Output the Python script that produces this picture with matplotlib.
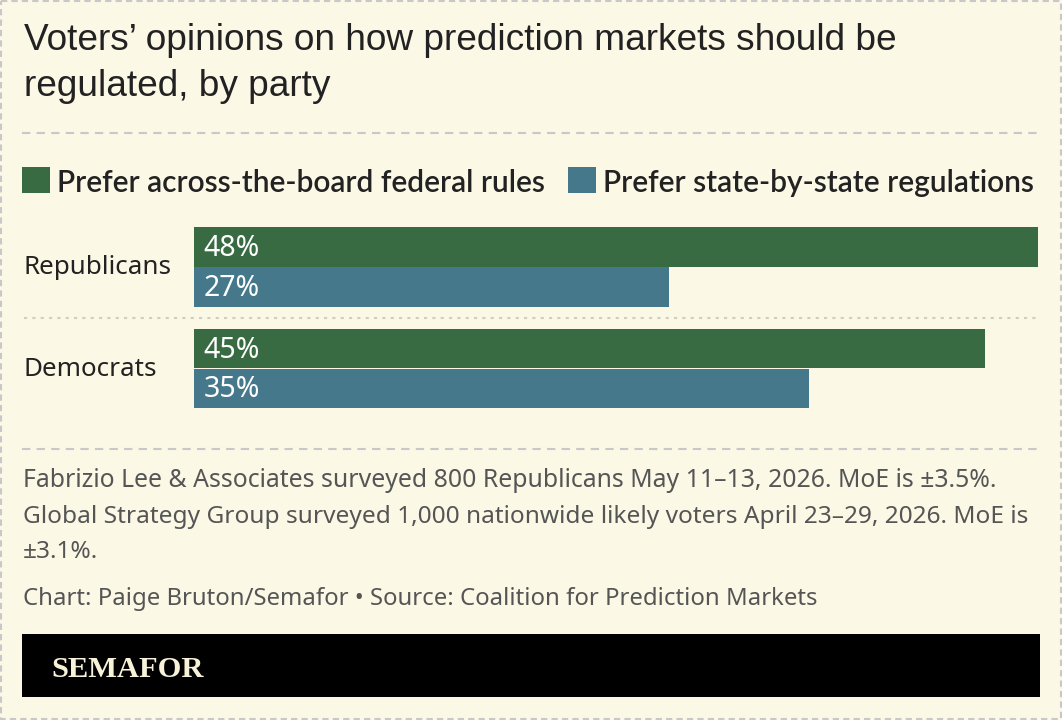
import matplotlib
matplotlib.use("Agg")
import matplotlib.pyplot as plt
from matplotlib.patches import Rectangle
import numpy as np

# ---- data ----
categories = ["Republicans", "Democrats"]
series_names = ["Prefer across-the-board federal rules", "Prefer state-by-state regulations"]
federal = [48, 45]
state = [27, 35]
title_lines = ["Voters\u2019 opinions on how prediction markets should be", "regulated, by party"]
notes = [
    "Fabrizio Lee & Associates surveyed 800 Republicans May 11\u201313, 2026. MoE is \u00b13.5%.",
    "Global Strategy Group surveyed 1,000 nationwide likely voters April 23\u201329, 2026. MoE is",
    "\u00b13.1%.",
]
credit = "Chart: Paige Bruton/Semafor \u2022 Source: Coalition for Prediction Markets"
brand = "SEMAFOR"

# ---- style ----
W, H = 1062, 720
BG = "#fbf8e6"
GREEN = "#386b41"
BLUE = "#45788b"
TXT = "#222222"
GRAY = "#555555"
SANS = ["Noto Sans", "DejaVu Sans"]
LEG = ["Lato", "Noto Sans", "DejaVu Sans"]

fig = plt.figure(figsize=(W / 100, H / 100), dpi=100, facecolor=BG)
ov = fig.add_axes([0, 0, 1, 1], zorder=0)
ov.set_xlim(0, W)
ov.set_ylim(H, 0)
ov.axis("off")
ov.set_facecolor(BG)

renderer = fig.canvas.get_renderer()


def fit(t, target_w):
    bb = t.get_window_extent(renderer=renderer)
    t.set_fontsize(t.get_fontsize() * target_w / bb.width)
    return t.get_fontsize()


# border
ov.add_patch(Rectangle((1, 1), W - 2, H - 2, fill=False, ec="#c8c8c8", lw=1.5, ls=(0, (3, 2))))

# title
t1 = ov.text(24, 50, title_lines[0], fontsize=23, family=["Liberation Sans"], color=TXT, va="baseline")
fs = fit(t1, 876)
ov.text(24, 96, title_lines[1], fontsize=fs, family=["Liberation Sans"], color=TXT, va="baseline")

# dashed separators
for y in (133, 449):
    ov.plot([22, 1040], [y, y], color="#c8c8c8", lw=1.5, ls=(0, (4, 3)))

# legend
ov.add_patch(Rectangle((22, 167), 28, 26, color=GREEN, lw=0))
l1 = ov.text(57, 192, series_names[0], fontsize=18, family=LEG, weight="semibold", color=TXT,
             va="baseline")
fit(l1, 489)
ov.add_patch(Rectangle((568, 167), 28, 26, color=BLUE, lw=0))
l2 = ov.text(603, 192, series_names[1], fontsize=18, family=LEG, weight="semibold", color=TXT,
             va="baseline")
fit(l2, 430)

# bars axes: x from 194px to 1038px covers 0..48
x0, x1 = 194, 1038
ytop, ybot = 216.25, 419.25
ax = fig.add_axes([x0 / W, 1 - ybot / H, (x1 - x0) / W, (ybot - ytop) / H], zorder=2)
ax.set_xlim(0, 48)
ax.set_ylim(1.5, -0.5)
ax.axis("off")
ax.patch.set_alpha(0)
pos = np.arange(len(categories))
bh = 0.39
ax.barh(pos - bh / 2, federal, height=bh, color=GREEN, lw=0)
ax.barh(pos + bh / 2, state, height=bh, color=BLUE, lw=0)
vfs = None
for i in range(len(categories)):
    for off, v in ((-bh / 2, federal[i]), (bh / 2, state[i])):
        t = ax.text(0.55, pos[i] + off + 0.015, f"{v}%", fontsize=vfs or 17, family=SANS,
                    color="white", va="center", ha="left")
        if vfs is None:
            vfs = fit(t, 56)

# category labels
cfs = None
for i, c in enumerate(categories):
    y = 268 + 101.5 * i
    t = ov.text(24, y, c, fontsize=cfs or 17, family=SANS, color=TXT, va="center")
    if cfs is None:
        cfs = fit(t, 148)

# dotted separator between groups
ov.plot([24, 1038], [317.5, 317.5], color="#cfcfc0", lw=1.5, ls=(0, (1.5, 2.5)))

# notes
n1 = ov.text(23, 487, notes[0], fontsize=15, family=SANS, color=GRAY, va="baseline")
fit(n1, 974)
n2 = ov.text(23, 523, notes[1], fontsize=15, family=SANS, color=GRAY, va="baseline")
fit(n2, 1005)
ov.text(23, 558, notes[2], fontsize=n2.get_fontsize(), family=SANS, color=GRAY, va="baseline")
n4 = ov.text(23, 605, credit, fontsize=15, family=SANS, color=GRAY, va="baseline")
fit(n4, 795)

# brand band
ov.add_patch(Rectangle((22, 634), 1018, 63, color="black", lw=0))
b = ov.text(51, 677, brand, fontsize=20, family=["Liberation Serif"], weight="bold",
            color="#f8f2d8", va="baseline")
fit(b, 152)

fig.savefig("out.png", dpi=100, facecolor=BG)
